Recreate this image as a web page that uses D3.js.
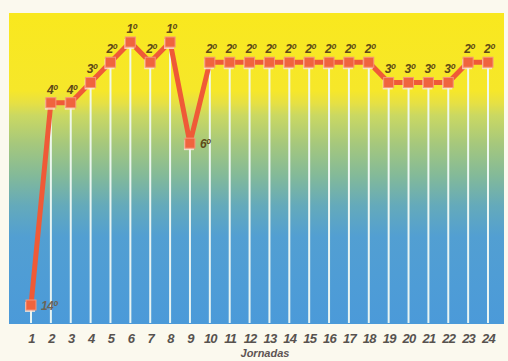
<!DOCTYPE html>
<html>
<head>
<meta charset="utf-8">
<script src="https://cdn.jsdelivr.net/npm/d3@7"></script>
<style>
html,body{margin:0;padding:0;background:#fbf9ee;}
svg{display:block;}
</style>
</head>
<body>
<svg id="chart" width="508" height="361"></svg>
<script>
const jornadas = [1,2,3,4,5,6,7,8,9,10,11,12,13,14,15,16,17,18,19,20,21,22,23,24];
const posiciones = [14,4,4,3,2,1,2,1,6,2,2,2,2,2,2,2,2,2,3,3,3,3,2,2];
const etiquetas = ["14º","4º","4º","3º","2º","1º","2º","1º","6º","2º","2º","2º","2º","2º","2º","2º","2º","2º","3º","3º","3º","3º","2º","2º"];
const tituloEje = "Jornadas";

const svg = d3.select("#chart");
const plot = {left: 9, top: 13, right: 504, bottom: 324};

const x = d3.scaleLinear().domain([1, 24]).range([31, 488]);
const y = d3.scaleLinear().domain([1, 14]).range([42, 305]);

const defs = svg.append("defs");
const grad = defs.append("linearGradient").attr("id","bg").attr("x1",0).attr("y1",0).attr("x2",0).attr("y2",1);
[[0,"#f9e81e"],[0.25,"#f6e72a"],[0.29,"#e6e044"],[0.33,"#cad862"],[0.42,"#a6c87c"],[0.52,"#84ba98"],[0.62,"#64aabb"],[0.72,"#529fd2"],[1,"#4b9ad9"]]
  .forEach(([o,c]) => grad.append("stop").attr("offset",o).attr("stop-color",c));

svg.append("rect")
  .attr("x", plot.left).attr("y", plot.top)
  .attr("width", plot.right - plot.left).attr("height", plot.bottom - plot.top)
  .attr("fill", "url(#bg)");

const data = jornadas.map((j,i) => ({j, p: posiciones[i], l: etiquetas[i]}));

svg.append("g").selectAll("line").data(data).join("line")
  .attr("x1", d => x(d.j)).attr("x2", d => x(d.j))
  .attr("y1", d => y(d.p) + 5).attr("y2", plot.bottom - 1)
  .attr("stroke", "#f0faf4").attr("stroke-opacity", 0.95).attr("stroke-width", 2);

const line = d3.line().x(d => x(d.j)).y(d => y(d.p));
svg.append("path").datum(data)
  .attr("d", line)
  .attr("fill", "none")
  .attr("stroke", "#ef5a37")
  .attr("stroke-width", 5)
  .attr("stroke-linejoin", "round");

svg.append("g").selectAll("rect").data(data).join("rect")
  .attr("x", d => x(d.j) - 6).attr("y", d => y(d.p) - 3)
  .attr("width", 10).attr("height", 10)
  .attr("fill", "#fbe6d8").attr("opacity", 0.8);
svg.append("g").selectAll("rect").data(data).join("rect")
  .attr("x", d => x(d.j) - 5).attr("y", d => y(d.p) - 5)
  .attr("width", 10).attr("height", 10)
  .attr("fill", "#f0643e").attr("stroke", "#f5957a").attr("stroke-width", 1);

svg.append("g").selectAll("text").data(data).join("text")
  .attr("x", d => (d.p >= 6) ? x(d.j) + 10 : x(d.j) + 1)
  .attr("y", d => (d.p >= 6) ? y(d.p) + 5 : y(d.p) - 9)
  .attr("text-anchor", d => (d.p >= 6) ? "start" : "middle")
  .attr("font-family", "Liberation Sans, Arial, sans-serif")
  .attr("font-weight", "bold")
  .attr("font-style", "italic")
  .attr("font-size", 12)
  .attr("letter-spacing", -0.6)
  .attr("fill", d => d.p >= 14 ? "#6a6458" : "#5e4a18")
  .text(d => d.l);

const axis = d3.axisBottom(x).tickValues(jornadas).tickSize(0).tickPadding(0).tickFormat(d3.format("d"));
const gx = svg.append("g").attr("transform", `translate(0,${plot.bottom + 10})`).call(axis);
gx.select(".domain").remove();
gx.selectAll("text")
  .attr("dy", "0.71em")
  .attr("font-family", "Liberation Sans, Arial, sans-serif")
  .attr("font-weight", "bold")
  .attr("font-style", "italic")
  .attr("font-size", 13)
  .attr("letter-spacing", -0.8)
  .attr("fill", "#57524f");

svg.append("text")
  .attr("x", 265).attr("y", 357)
  .attr("text-anchor", "middle")
  .attr("font-family", "Liberation Sans, Arial, sans-serif")
  .attr("font-weight", "bold")
  .attr("font-style", "italic")
  .attr("font-size", 11)
  .attr("fill", "#5e5454")
  .text(tituloEje);
</script>
</body>
</html>
